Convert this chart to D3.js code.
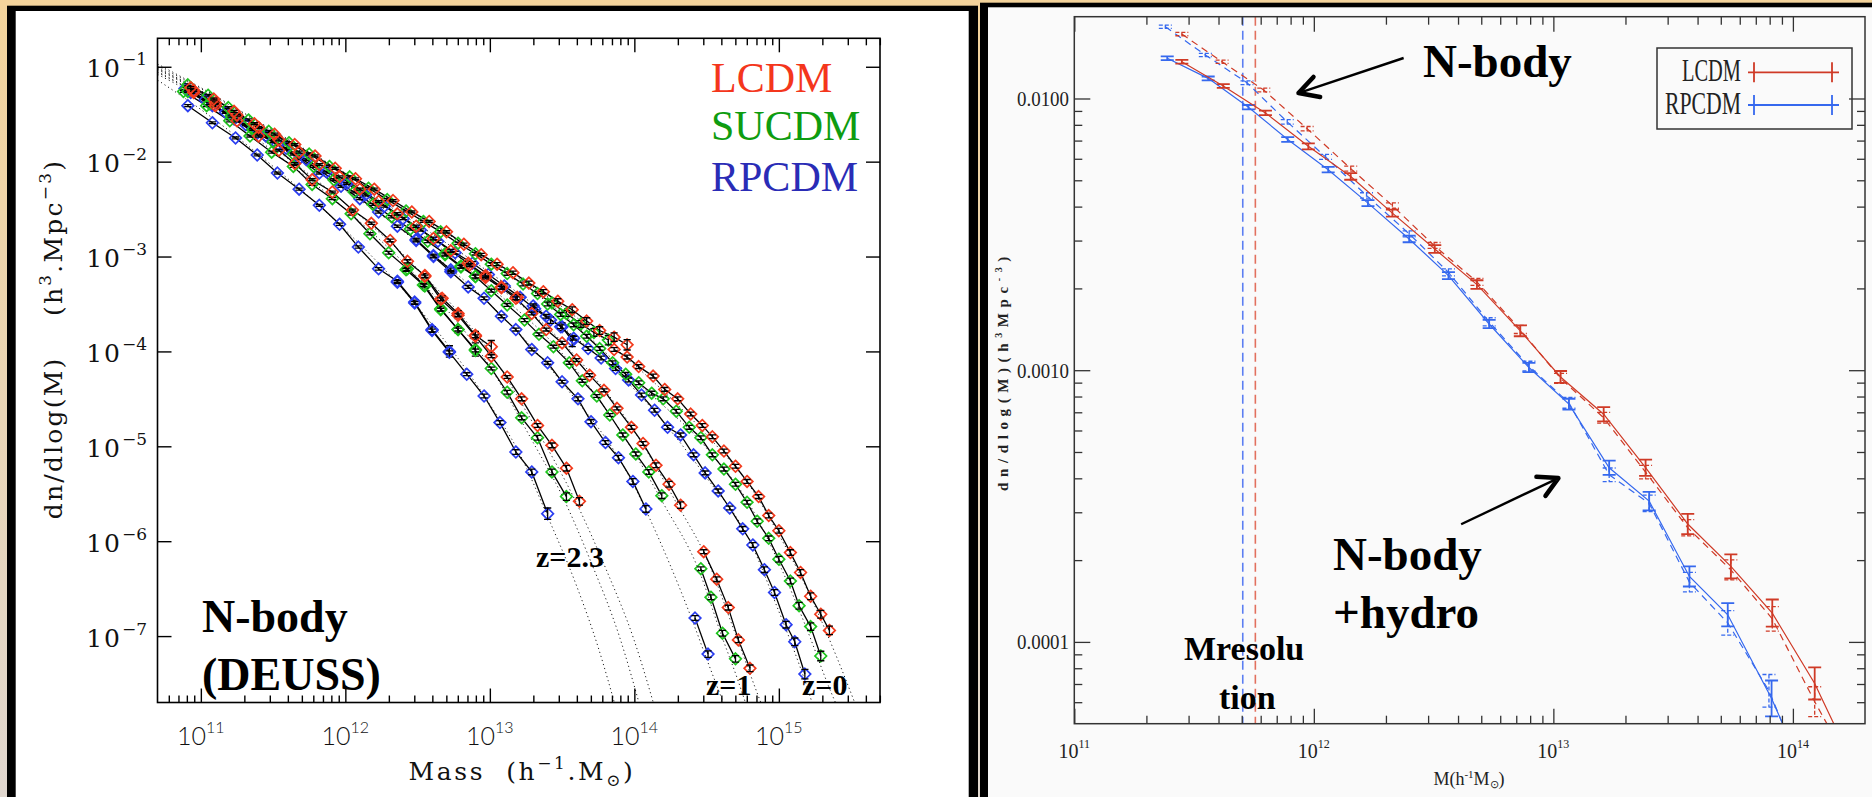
<!DOCTYPE html>
<html>
<head>
<meta charset="utf-8">
<script src="https://cdn.jsdelivr.net/npm/d3@7/dist/d3.min.js"></script>
<style>
html,body{margin:0;padding:0;background:#eadcc4;overflow:hidden}
svg{display:block}
text{white-space:pre}
</style>
</head>
<body>
<svg id="fig" width="1872" height="797"></svg>
<script>
// ================= DEUSS halo mass functions (left panel) =================
// point = [log10 M (h^-1 Msun), log10 dn/dlogM (h^3 Mpc^-3), error (dex)]
// a/b/c = successive simulation boxes (small -> large)
const lcdmZ0a = [[10.93,-1.22,.01],[11.09,-1.34,.01],[11.23,-1.47,.01],[11.37,-1.60,.01],[11.51,-1.71,.01],[11.65,-1.82,.01],[11.79,-1.94,.01],[11.93,-2.07,.01],[12.07,-2.18,.01],[12.20,-2.29,.01],[12.33,-2.41,.01],[12.46,-2.53,.01],[12.58,-2.63,.01],[12.70,-2.74,.012],[12.82,-2.87,.012],[12.94,-2.98,.014],[13.05,-3.08,.015],[13.16,-3.17,.017],[13.27,-3.28,.02],[13.37,-3.37,.022],[13.47,-3.47,.025],[13.57,-3.56,.03],[13.67,-3.68,.035],[13.76,-3.78,.04],[13.86,-3.85,.045],[13.95,-3.93,.055]];
const lcdmZ0b = [[13.86,-3.98,.02],[13.95,-4.06,.02],[14.03,-4.16,.02],[14.13,-4.26,.02],[14.21,-4.40,.02],[14.30,-4.50,.02],[14.39,-4.66,.02],[14.47,-4.78,.02],[14.54,-4.90,.02],[14.62,-5.05,.02],[14.70,-5.21,.02],[14.78,-5.37,.02],[14.86,-5.53,.02],[14.93,-5.73,.025],[15.00,-5.89,.025],[15.08,-6.12,.03],[15.15,-6.33,.03],[15.22,-6.58,.035],[15.29,-6.77,.04],[15.35,-6.94,.045]];
const sucdmZ0a = [[10.91,-1.19,.01],[11.05,-1.30,.01],[11.19,-1.43,.01],[11.33,-1.56,.01],[11.47,-1.68,.01],[11.61,-1.80,.01],[11.75,-1.92,.01],[11.89,-2.05,.01],[12.03,-2.16,.01],[12.16,-2.28,.01],[12.29,-2.40,.01],[12.42,-2.52,.01],[12.54,-2.63,.01],[12.66,-2.74,.012],[12.78,-2.86,.012],[12.90,-2.97,.014],[13.01,-3.08,.015],[13.12,-3.18,.017],[13.23,-3.29,.02],[13.33,-3.39,.022],[13.43,-3.49,.025],[13.53,-3.60,.03],[13.63,-3.71,.035],[13.72,-3.80,.04],[13.82,-3.88,.05]];
const sucdmZ0b = [[13.40,-3.50,.02],[13.49,-3.61,.02],[13.58,-3.72,.02],[13.67,-3.84,.02],[13.76,-3.97,.02],[13.85,-4.12,.02],[13.94,-4.24,.02],[14.03,-4.33,.02],[14.12,-4.44,.02],[14.20,-4.50,.02],[14.29,-4.63,.02],[14.38,-4.80,.02],[14.46,-4.91,.02],[14.54,-5.09,.02],[14.62,-5.24,.02],[14.70,-5.40,.02],[14.78,-5.59,.02],[14.85,-5.79,.025],[14.93,-5.97,.025],[15.00,-6.19,.03],[15.08,-6.42,.03],[15.14,-6.68,.035],[15.22,-6.90,.04],[15.29,-7.21,.05]];
const rpcdmZ0a = [[10.89,-1.23,.01],[11.03,-1.35,.01],[11.17,-1.48,.01],[11.31,-1.61,.01],[11.45,-1.73,.01],[11.59,-1.86,.01],[11.73,-1.98,.01],[11.87,-2.11,.01],[12.01,-2.23,.01],[12.14,-2.35,.01],[12.27,-2.47,.01],[12.40,-2.60,.012],[12.52,-2.72,.012],[12.64,-2.84,.014],[12.76,-2.96,.015],[12.88,-3.07,.017],[12.99,-3.19,.02],[13.10,-3.31,.022],[13.21,-3.43,.025],[13.31,-3.55,.03],[13.42,-3.67,.035],[13.50,-3.74,.04],[13.57,-3.89,.06]];
const rpcdmZ0b = [[13.30,-3.52,.02],[13.39,-3.63,.02],[13.49,-3.74,.02],[13.58,-3.86,.02],[13.68,-3.97,.02],[13.77,-4.07,.02],[13.87,-4.18,.02],[13.96,-4.30,.02],[14.05,-4.46,.02],[14.14,-4.62,.02],[14.23,-4.80,.02],[14.32,-4.88,.02],[14.41,-5.09,.02],[14.49,-5.28,.02],[14.58,-5.47,.02],[14.66,-5.65,.02],[14.75,-5.87,.025],[14.82,-6.04,.025],[14.90,-6.30,.03],[14.97,-6.54,.03],[15.05,-6.88,.035],[15.11,-7.06,.04],[15.18,-7.40,.05]];

const lcdmZ1a = [[10.95,-1.25,.01],[11.10,-1.38,.01],[11.25,-1.51,.01],[11.40,-1.64,.01],[11.54,-1.77,.01],[11.68,-1.90,.01],[11.82,-2.03,.01],[11.96,-2.16,.01],[12.10,-2.29,.01],[12.23,-2.42,.01],[12.36,-2.55,.012],[12.49,-2.68,.012],[12.61,-2.81,.014],[12.73,-2.94,.015],[12.85,-3.07,.018],[12.97,-3.20,.02],[13.08,-3.32,.025],[13.19,-3.43,.03]];
const lcdmZ1b = [[12.86,-3.09,.015],[12.97,-3.22,.015],[13.08,-3.33,.015],[13.18,-3.44,.015],[13.29,-3.60,.015],[13.39,-3.77,.015],[13.50,-3.91,.015],[13.60,-4.09,.015],[13.69,-4.25,.015],[13.79,-4.41,.015],[13.88,-4.60,.015],[13.98,-4.80,.02],[14.06,-4.97,.02],[14.15,-5.20,.025],[14.24,-5.40,.03],[14.32,-5.62,.035]];
const lcdmZ1c = [[14.48,-6.11,.02],[14.57,-6.40,.025],[14.65,-6.70,.025],[14.72,-7.04,.03],[14.80,-7.34,.035]];
const sucdmZ1a = [[10.91,-1.26,.01],[11.06,-1.39,.01],[11.21,-1.52,.01],[11.36,-1.66,.01],[11.50,-1.79,.01],[11.64,-1.92,.01],[11.78,-2.05,.01],[11.92,-2.19,.01],[12.06,-2.32,.01],[12.19,-2.45,.01],[12.32,-2.58,.012],[12.45,-2.71,.012],[12.57,-2.84,.014],[12.69,-2.97,.016],[12.80,-3.10,.02],[12.90,-3.21,.025]];
const sucdmZ1b = [[12.69,-2.98,.015],[12.80,-3.11,.015],[12.90,-3.21,.015],[13.01,-3.36,.015],[13.12,-3.51,.015],[13.24,-3.67,.015],[13.34,-3.82,.015],[13.44,-3.95,.015],[13.55,-4.12,.015],[13.64,-4.31,.015],[13.74,-4.47,.015],[13.83,-4.67,.015],[13.92,-4.88,.02],[14.01,-5.08,.02],[14.10,-5.27,.025],[14.19,-5.52,.03]];
const sucdmZ1c = [[14.46,-6.29,.02],[14.53,-6.59,.025],[14.61,-6.97,.03],[14.70,-7.24,.035]];
const rpcdmZ1a = [[10.93,-1.27,.01],[11.08,-1.41,.01],[11.23,-1.55,.01],[11.39,-1.70,.01],[11.53,-1.82,.01],[11.68,-1.97,.01],[11.82,-2.12,.01],[11.97,-2.26,.01],[12.10,-2.39,.01],[12.23,-2.53,.012],[12.36,-2.68,.012],[12.49,-2.82,.014],[12.61,-2.99,.016],[12.73,-3.14,.02]];
const rpcdmZ1b = [[12.49,-2.83,.015],[12.61,-3.00,.015],[12.73,-3.16,.015],[12.85,-3.32,.015],[12.96,-3.44,.015],[13.08,-3.63,.015],[13.18,-3.77,.015],[13.29,-3.98,.015],[13.40,-4.12,.015],[13.50,-4.32,.015],[13.61,-4.50,.02],[13.70,-4.74,.02],[13.80,-4.96,.02],[13.89,-5.12,.025],[13.99,-5.37,.03],[14.08,-5.66,.035]];
const rpcdmZ1c = [[14.42,-6.81,.025],[14.51,-7.19,.035]];

const lcdmZ23a = [[10.95,-1.27,.01],[11.10,-1.41,.01],[11.25,-1.57,.01],[11.40,-1.73,.01],[11.54,-1.88,.01],[11.65,-2.02,.01],[11.77,-2.19,.01],[11.91,-2.32,.01],[12.05,-2.51,.01],[12.18,-2.65,.012],[12.31,-2.83,.014],[12.43,-3.05,.016],[12.55,-3.20,.02],[12.67,-3.44,.025],[12.78,-3.60,.03],[12.90,-3.83,.04],[13.01,-3.95,.065]];
const lcdmZ23b = [[12.55,-3.21,.015],[12.66,-3.45,.015],[12.78,-3.62,.015],[12.90,-3.84,.015],[13.01,-4.05,.015],[13.12,-4.27,.015],[13.22,-4.50,.02],[13.33,-4.78,.02],[13.43,-4.99,.025],[13.53,-5.23,.03],[13.62,-5.58,.04]];
const sucdmZ23a = [[10.88,-1.26,.01],[11.04,-1.41,.01],[11.20,-1.57,.01],[11.34,-1.73,.01],[11.49,-1.90,.01],[11.64,-2.05,.01],[11.77,-2.24,.01],[11.91,-2.39,.01],[12.04,-2.55,.012],[12.17,-2.76,.012],[12.30,-2.96,.014],[12.43,-3.13,.016],[12.55,-3.31,.02],[12.66,-3.55,.025],[12.78,-3.77,.035],[12.90,-3.98,.07]];
const sucdmZ23b = [[12.42,-3.14,.015],[12.54,-3.30,.015],[12.66,-3.56,.015],[12.78,-3.77,.015],[12.90,-3.99,.015],[13.01,-4.18,.015],[13.12,-4.43,.02],[13.22,-4.70,.02],[13.33,-4.91,.025],[13.43,-5.27,.03],[13.53,-5.53,.04]];
const rpcdmZ23a = [[10.91,-1.41,.01],[11.08,-1.59,.01],[11.24,-1.75,.01],[11.39,-1.93,.01],[11.53,-2.12,.01],[11.68,-2.29,.01],[11.82,-2.46,.01],[11.96,-2.66,.012],[12.09,-2.90,.012],[12.23,-3.13,.014],[12.36,-3.26,.016],[12.48,-3.48,.02],[12.60,-3.77,.03],[12.72,-4.00,.06]];
const rpcdmZ23b = [[12.36,-3.27,.015],[12.48,-3.49,.015],[12.60,-3.78,.015],[12.72,-4.01,.015],[12.84,-4.24,.015],[12.96,-4.47,.02],[13.07,-4.75,.02],[13.18,-5.06,.025],[13.29,-5.27,.03],[13.40,-5.71,.06]];

// analytic fits (dotted): [log10 M, log10 dn/dlogM]
const fitLcdmZ0  = [[10.70,-0.97],[11.00,-1.22],[11.50,-1.67],[12.00,-2.12],[12.50,-2.57],[13.00,-3.04],[13.50,-3.53],[14.00,-4.14],[14.50,-4.88],[14.80,-5.42],[15.00,-5.93],[15.20,-6.52],[15.40,-7.22],[15.55,-7.80]];
const fitSucdmZ0 = [[10.70,-0.99],[11.00,-1.23],[11.50,-1.68],[12.00,-2.13],[12.50,-2.59],[13.00,-3.07],[13.50,-3.60],[14.00,-4.30],[14.50,-5.02],[14.80,-5.62],[15.00,-6.23],[15.20,-6.95],[15.35,-7.55],[15.42,-7.80]];
const fitRpcdmZ0 = [[10.70,-1.01],[11.00,-1.25],[11.50,-1.71],[12.00,-2.18],[12.50,-2.66],[13.00,-3.17],[13.50,-3.74],[14.00,-4.40],[14.50,-5.33],[14.80,-6.00],[15.00,-6.74],[15.10,-7.13],[15.20,-7.56],[15.25,-7.80]];
const fitLcdmZ1  = [[10.70,-1.02],[11.00,-1.26],[11.50,-1.73],[12.00,-2.20],[12.50,-2.70],[13.00,-3.25],[13.50,-3.90],[14.00,-4.84],[14.30,-5.62],[14.50,-6.18],[14.70,-6.98],[14.85,-7.60],[14.90,-7.80]];
const fitSucdmZ1 = [[10.70,-1.03],[11.00,-1.27],[11.50,-1.75],[12.00,-2.23],[12.50,-2.74],[13.00,-3.32],[13.50,-4.02],[14.00,-5.07],[14.20,-5.60],[14.45,-6.32],[14.60,-6.98],[14.72,-7.48],[14.79,-7.80]];
const fitRpcdmZ1 = [[10.70,-1.05],[11.00,-1.30],[11.50,-1.80],[12.00,-2.30],[12.50,-2.85],[13.00,-3.50],[13.50,-4.33],[14.00,-5.42],[14.10,-5.74],[14.40,-6.83],[14.50,-7.24],[14.60,-7.64],[14.64,-7.80]];
const fitLcdmZ23  = [[10.70,-1.06],[11.00,-1.31],[11.50,-1.85],[12.00,-2.44],[12.50,-3.13],[13.00,-4.01],[13.30,-4.76],[13.60,-5.60],[13.80,-6.28],[14.00,-7.05],[14.15,-7.80]];
const fitSucdmZ23 = [[10.70,-1.08],[11.00,-1.33],[11.50,-1.89],[12.00,-2.50],[12.50,-3.22],[13.00,-4.16],[13.30,-4.96],[13.50,-5.52],[13.70,-6.22],[13.90,-7.02],[14.05,-7.80]];
const fitRpcdmZ23 = [[10.70,-1.14],[11.00,-1.45],[11.50,-2.05],[12.00,-2.72],[12.50,-3.53],[13.00,-4.56],[13.20,-5.06],[13.40,-5.74],[13.60,-6.47],[13.75,-7.12],[13.88,-7.80]];

const leftXExponents = [11, 12, 13, 14, 15];
const leftYExponents = [-1, -2, -3, -4, -5, -6, -7];
const modelNamesL = ['LCDM', 'SUCDM', 'RPCDM'];

// ================= N-body vs N-body+hydro (right panel) =================
// point = [log10 M, log10 dn/dlogM, error (dex)]
const lcdmHydro = [[11.449,-1.865,.007],[11.622,-1.954,.007],[11.798,-2.053,.008],[11.977,-2.176,.011],[12.154,-2.287,.012],[12.328,-2.422,.013],[12.505,-2.554,.014],[12.681,-2.685,.016],[12.862,-2.855,.02],[13.030,-3.025,.022],[13.210,-3.162,.026],[13.385,-3.359,.03],[13.561,-3.566,.037],[13.741,-3.722,.044],[13.914,-3.894,.05],[14.091,-4.153,.059],[14.267,-4.480,.07]];
const rpcdmHydro = [[11.388,-1.852,.007],[11.559,-1.926,.007],[11.727,-2.032,.008],[11.891,-2.151,.009],[12.060,-2.262,.01],[12.226,-2.385,.011],[12.398,-2.517,.012],[12.562,-2.652,.013],[12.732,-2.830,.015],[12.898,-2.990,.017],[13.065,-3.125,.02],[13.233,-3.359,.026],[13.400,-3.482,.034],[13.568,-3.759,.037],[13.728,-3.900,.043],[13.911,-4.208,.066],[14.079,-4.548,.08]];
const lcdmNbody = [[11.449,-1.763,.006],[11.617,-1.865,.006],[11.791,-1.969,.007],[11.972,-2.111,.008],[12.154,-2.258,.009],[12.328,-2.394,.01],[12.502,-2.541,.011],[12.681,-2.675,.013],[12.862,-2.850,.015],[13.030,-3.030,.018],[13.210,-3.175,.02],[13.385,-3.375,.025],[13.561,-3.580,.03],[13.741,-3.735,.037],[13.914,-3.915,.045],[14.091,-4.220,.055],[14.267,-4.500,.07]];
const rpcdmNbody = [[11.380,-1.736,.006],[11.547,-1.840,.006],[11.721,-1.942,.007],[11.889,-2.086,.008],[12.049,-2.215,.009],[12.220,-2.357,.01],[12.398,-2.498,.011],[12.562,-2.640,.013],[12.732,-2.822,.015],[12.898,-2.985,.018],[13.065,-3.120,.02],[13.233,-3.385,.025],[13.400,-3.490,.03],[13.568,-3.780,.036],[13.728,-3.930,.045],[13.900,-4.180,.06],[14.079,-4.560,.08]];
const mResolution = {RPCDM: 5.05e11, LCDM: 5.7e11};
const rightXExponents = [11, 12, 13, 14];
const rightYTicks = [0.01, 0.001, 0.0001];
const rightYTickText = ['0.0100', '0.0010', '0.0001'];
const modelNamesR = ['LCDM', 'RPCDM'];

// ------------------------------------------------------------------
const RED_L = '#f23a1c', GREEN_L = '#1ec41e', BLUE_L = '#2b3ef0';
const RED_T = '#f4361c', GREEN_T = '#0e9c10', BLUE_T = '#2a2cb6';
const RED_R = '#cf3a26', BLUE_R = '#3568ee';

const svg = d3.select('#fig');
const defs = svg.append('defs');
const bg = defs.append('linearGradient').attr('id', 'bg').attr('x1', 0).attr('y1', 0).attr('x2', 0).attr('y2', 1);
bg.append('stop').attr('offset', '0%').attr('stop-color', '#f3d39b');
bg.append('stop').attr('offset', '100%').attr('stop-color', '#e0d7cf');
svg.append('rect').attr('width', 1872).attr('height', 797).attr('fill', 'url(#bg)');

// ---- panel cards ----
svg.append('rect').attr('x', 7).attr('y', 5.7).attr('width', 971).attr('height', 800).attr('fill', '#000');
svg.append('rect').attr('x', 15.7).attr('y', 11).attr('width', 953).attr('height', 800).attr('fill', '#fff');
svg.append('rect').attr('x', 980).attr('y', 2.7).attr('width', 900).attr('height', 800).attr('fill', '#000');
svg.append('rect').attr('x', 988).attr('y', 7.3).attr('width', 890).attr('height', 800).attr('fill', '#fafafa');

const p10 = v => Math.pow(10, v);

// =================== LEFT PANEL ===================
const L = {x0: 157.5, x1: 880, y0: 38.3, y1: 702.5};
const xL = d3.scaleLog().domain([p10(10.7), p10(15.7)]).range([L.x0, L.x1]);
const yL = d3.scaleLog().domain([p10(-7.7), p10(-0.7)]).range([L.y1, L.y0]);

defs.append('clipPath').attr('id', 'clipL').append('rect')
  .attr('x', L.x0).attr('y', L.y0).attr('width', L.x1 - L.x0).attr('height', L.y1 - L.y0);

const gL = svg.append('g');
const plotL = gL.append('g').attr('clip-path', 'url(#clipL)');

const lineL = d3.line().x(d => xL(p10(d[0]))).y(d => yL(p10(d[1])));

const fitsL = [fitLcdmZ0, fitSucdmZ0, fitRpcdmZ0, fitLcdmZ1, fitSucdmZ1, fitRpcdmZ1, fitLcdmZ23, fitSucdmZ23, fitRpcdmZ23];
plotL.selectAll('path.fit').data(fitsL).join('path').attr('class', 'fit')
  .attr('d', d => lineL.curve(d3.curveMonotoneX)(d))
  .attr('fill', 'none').attr('stroke', '#222').attr('stroke-width', 1).attr('stroke-dasharray', '1.2,3');
lineL.curve(d3.curveLinear);

const seriesL = [
  {c: BLUE_L, segs: [rpcdmZ23a, rpcdmZ23b, rpcdmZ1a, rpcdmZ1b, rpcdmZ1c, rpcdmZ0a, rpcdmZ0b]},
  {c: GREEN_L, segs: [sucdmZ23a, sucdmZ23b, sucdmZ1a, sucdmZ1b, sucdmZ1c, sucdmZ0a, sucdmZ0b]},
  {c: RED_L, segs: [lcdmZ23a, lcdmZ23b, lcdmZ1a, lcdmZ1b, lcdmZ1c, lcdmZ0a, lcdmZ0b]}
];
const segsL = [];
seriesL.forEach(s => s.segs.forEach(seg => segsL.push({c: s.c, pts: seg})));

plotL.selectAll('path.seg').data(segsL).join('path').attr('class', 'seg')
  .attr('d', d => lineL(d.pts)).attr('fill', 'none').attr('stroke', '#000').attr('stroke-width', 1.3);

const diamond = 'M0,-5.8L5.8,0L0,5.8L-5.8,0Z';
segsL.forEach(s => {
  const g = plotL.append('g');
  const pts = g.selectAll('g').data(s.pts).join('g')
    .attr('transform', d => `translate(${xL(p10(d[0]))},${yL(p10(d[1]))})`);
  pts.append('path').attr('d', diamond).attr('fill', 'none').attr('stroke', s.c).attr('stroke-width', 1.7);
  pts.append('path')
    .attr('d', d => {
      const yc = yL(p10(d[1]));
      const a = yL(p10(d[1] + d[2])) - yc, b = yL(p10(d[1] - d[2])) - yc;
      return `M0,${a}V${b}M-3.6,${a}H3.6M-3.6,${b}H3.6`;
    })
    .attr('fill', 'none').attr('stroke', '#000').attr('stroke-width', 1.3);
});

// axes (ticks only; labels drawn as text)
const minorTicks = (lo, hi) => {
  const out = [];
  for (let e = Math.floor(lo); e <= Math.ceil(hi); e++)
    for (let k = 2; k <= 9; k++) { const v = k * p10(e); if (Math.log10(v) > lo && Math.log10(v) < hi) out.push(v); }
  return out;
};
function tickAxis(g, axis) {
  g.call(axis);
  g.select('.domain').remove();
  g.selectAll('text').remove();
  g.selectAll('line').attr('stroke', '#000').attr('stroke-width', 1.4);
  return g;
}
const xMajL = leftXExponents.map(p10), xMinL = minorTicks(10.7, 15.7);
const yMajL = leftYExponents.map(p10);
tickAxis(gL.append('g').attr('transform', `translate(0,${L.y1})`), d3.axisBottom(xL).tickValues(xMajL).tickSize(-14).tickFormat(''));
tickAxis(gL.append('g').attr('transform', `translate(0,${L.y1})`), d3.axisBottom(xL).tickValues(xMinL).tickSize(-7).tickFormat(''));
tickAxis(gL.append('g').attr('transform', `translate(0,${L.y0})`), d3.axisTop(xL).tickValues(xMajL).tickSize(-14).tickFormat(''));
tickAxis(gL.append('g').attr('transform', `translate(0,${L.y0})`), d3.axisTop(xL).tickValues(xMinL).tickSize(-7).tickFormat(''));
tickAxis(gL.append('g').attr('transform', `translate(${L.x0},0)`), d3.axisLeft(yL).tickValues(yMajL).tickSize(-14).tickFormat(''));
tickAxis(gL.append('g').attr('transform', `translate(${L.x1},0)`), d3.axisRight(yL).tickValues(yMajL).tickSize(-14).tickFormat(''));
gL.append('rect').attr('x', L.x0).attr('y', L.y0).attr('width', L.x1 - L.x0).attr('height', L.y1 - L.y0)
  .attr('fill', 'none').attr('stroke', '#000').attr('stroke-width', 1.6);

// tick labels
leftXExponents.forEach(e => {
  const t = gL.append('text').attr('x', xL(p10(e))).attr('y', 745).attr('text-anchor', 'middle')
    .attr('font-family', 'Lato, "Open Sans", sans-serif').attr('font-weight', 300).attr('font-size', 25).attr('fill', '#111');
  t.append('tspan').text('10');
  t.append('tspan').attr('dy', -12).attr('font-size', 16).text(String(e));
});
leftYExponents.forEach(e => {
  const t = gL.append('text').attr('x', 147).attr('y', yL(p10(e)) + 10.5).attr('text-anchor', 'end')
    .attr('font-family', '"DejaVu Serif", serif').attr('font-size', 25).attr('fill', '#111');
  t.append('tspan').attr('letter-spacing', 2).text('10');
  t.append('tspan').attr('dy', -12).attr('font-size', 17).text('\u2212' + Math.abs(e));
});

// axis titles
{
  const t = gL.append('text').attr('x', 522).attr('y', 780).attr('text-anchor', 'middle')
    .attr('font-family', '"DejaVu Serif", serif').attr('font-size', 25).attr('letter-spacing', 2.6).attr('fill', '#111');
  t.append('tspan').text('Mass  (h');
  t.append('tspan').attr('dy', -11).attr('font-size', 17).text('\u22121');
  t.append('tspan').attr('dy', 11).text('.M');
  t.append('tspan').attr('dy', 6).attr('font-size', 17).text('\u2299');
  t.append('tspan').attr('dy', -6).text(')');
}
{
  const t = gL.append('text').attr('transform', 'translate(62,339) rotate(-90)').attr('text-anchor', 'middle')
    .attr('font-family', '"DejaVu Serif", serif').attr('font-size', 25).attr('letter-spacing', 2.2).attr('fill', '#111');
  t.append('tspan').text('dn/dlog(M)    (h');
  t.append('tspan').attr('dy', -11).attr('font-size', 17).text('3');
  t.append('tspan').attr('dy', 11).text('.Mpc');
  t.append('tspan').attr('dy', -11).attr('font-size', 17).text('\u22123');
  t.append('tspan').attr('dy', 11).text(')');
}

// legend and annotations
[[modelNamesL[0], RED_T, 92], [modelNamesL[1], GREEN_T, 140], [modelNamesL[2], BLUE_T, 191]].forEach(([s, c, y]) => {
  gL.append('text').attr('x', 711).attr('y', y).attr('font-family', '"Liberation Serif", serif')
    .attr('font-size', 42).attr('fill', c).text(s);
});
const boldSerif = '"Liberation Serif", "Times New Roman", serif';
gL.append('text').attr('x', 202).attr('y', 632).attr('font-family', boldSerif).attr('font-weight', 'bold').attr('font-size', 46).attr('fill', '#000').text('N-body');
gL.append('text').attr('x', 202).attr('y', 690).attr('font-family', boldSerif).attr('font-weight', 'bold').attr('font-size', 46).attr('fill', '#000').text('(DEUSS)');
[['z=2.3', 536, 567], ['z=1', 706, 695], ['z=0', 802, 695]].forEach(([s, x, y]) => {
  gL.append('text').attr('x', x).attr('y', y).attr('font-family', boldSerif).attr('font-weight', 'bold')
    .attr('font-size', 30).attr('fill', '#000').text(s);
});

// =================== RIGHT PANEL ===================
const R = {x0: 1074.3, x1: 1865, y0: 16.7, y1: 723.7};
const xR = d3.scaleLog().domain([1e11, 2e14]).range([R.x0, R.x1]);
const yR = d3.scaleLog().domain([5e-5, 0.02]).range([R.y1, R.y0]);
defs.append('clipPath').attr('id', 'clipR').append('rect')
  .attr('x', R.x0).attr('y', R.y0).attr('width', R.x1 - R.x0).attr('height', R.y1 - R.y0);
const gR = svg.append('g');
const plotR = gR.append('g').attr('clip-path', 'url(#clipR)');
const lineR = d3.line().x(d => xR(p10(d[0]))).y(d => yR(p10(d[1])));

// mass-resolution limits
[[mResolution.RPCDM, '#5b7ef2'], [mResolution.LCDM, '#e2705e']].forEach(([m, c]) => {
  plotR.append('line').attr('x1', xR(m)).attr('x2', xR(m)).attr('y1', R.y0).attr('y2', R.y1)
    .attr('stroke', c).attr('stroke-width', 1.6).attr('stroke-dasharray', '9,5');
});

const seriesR = [
  {pts: rpcdmNbody, c: BLUE_R, dash: '7,5'},
  {pts: lcdmNbody, c: RED_R, dash: '7,5'},
  {pts: rpcdmHydro, c: BLUE_R, dash: null},
  {pts: lcdmHydro, c: RED_R, dash: null}
];
seriesR.forEach(s => {
  plotR.append('path').attr('d', lineR(s.pts)).attr('fill', 'none').attr('stroke', s.c)
    .attr('stroke-width', 1.2).attr('stroke-dasharray', s.dash);
  plotR.append('g').selectAll('path').data(s.pts).join('path')
    .attr('d', d => {
      const x = xR(p10(d[0]));
      const a = yR(p10(d[1] + d[2])), b = yR(p10(d[1] - d[2]));
      const w = 6.5;
      return `M${x},${a}V${b}M${x - w},${a}H${x + w}M${x - w},${b}H${x + w}`;
    })
    .attr('fill', 'none').attr('stroke', s.c).attr('stroke-width', s.dash ? 1.3 : 1.8)
    .attr('stroke-dasharray', s.dash ? '4,2' : null);
});

const xMajR = rightXExponents.map(p10), xMinR = minorTicks(11, Math.log10(2e14));
const yMinR = minorTicks(Math.log10(5e-5), Math.log10(0.02));
function tickAxisR(g, axis) {
  tickAxis(g, axis);
  g.selectAll('line').attr('stroke', '#333').attr('stroke-width', 1.3);
}
tickAxisR(gR.append('g').attr('transform', `translate(0,${R.y1})`), d3.axisBottom(xR).tickValues(xMajR).tickSize(-15).tickFormat(''));
tickAxisR(gR.append('g').attr('transform', `translate(0,${R.y1})`), d3.axisBottom(xR).tickValues(xMinR).tickSize(-8).tickFormat(''));
tickAxisR(gR.append('g').attr('transform', `translate(0,${R.y0})`), d3.axisTop(xR).tickValues(xMajR).tickSize(-15).tickFormat(''));
tickAxisR(gR.append('g').attr('transform', `translate(0,${R.y0})`), d3.axisTop(xR).tickValues(xMinR).tickSize(-8).tickFormat(''));
tickAxisR(gR.append('g').attr('transform', `translate(${R.x0},0)`), d3.axisLeft(yR).tickValues(rightYTicks).tickSize(-16).tickFormat(''));
tickAxisR(gR.append('g').attr('transform', `translate(${R.x0},0)`), d3.axisLeft(yR).tickValues(yMinR).tickSize(-8).tickFormat(''));
tickAxisR(gR.append('g').attr('transform', `translate(${R.x1},0)`), d3.axisRight(yR).tickValues(rightYTicks).tickSize(-16).tickFormat(''));
tickAxisR(gR.append('g').attr('transform', `translate(${R.x1},0)`), d3.axisRight(yR).tickValues(yMinR).tickSize(-8).tickFormat(''));
gR.append('rect').attr('x', R.x0).attr('y', R.y0).attr('width', R.x1 - R.x0).attr('height', R.y1 - R.y0)
  .attr('fill', 'none').attr('stroke', '#333').attr('stroke-width', 1.5);

const hershey = '"Liberation Serif", "Times New Roman", serif';
rightYTicks.forEach((v, i) => {
  gR.append('text').attr('x', 1069).attr('y', yR(v) + 7.5).attr('text-anchor', 'end')
    .attr('font-family', hershey).attr('font-size', 22).attr('fill', '#222')
    .attr('textLength', 52).attr('lengthAdjust', 'spacingAndGlyphs').text(rightYTickText[i]);
});
rightXExponents.forEach(e => {
  const t = gR.append('text').attr('x', xR(p10(e))).attr('y', 758).attr('text-anchor', 'middle')
    .attr('font-family', hershey).attr('font-size', 20).attr('fill', '#222');
  t.append('tspan').text('10');
  t.append('tspan').attr('dy', -10).attr('font-size', 12).text(String(e));
});
{
  const t = gR.append('text').attr('x', 1469).attr('y', 785).attr('text-anchor', 'middle')
    .attr('font-family', hershey).attr('font-size', 18).attr('fill', '#222');
  t.append('tspan').text('M(h');
  t.append('tspan').attr('dy', -7).attr('font-size', 11).text('-1');
  t.append('tspan').attr('dy', 7).text('M');
  t.append('tspan').attr('dy', 3).attr('font-size', 11).text('\u2299');
  t.append('tspan').attr('dy', -3).text(')');
}
{
  const t = gR.append('text').attr('transform', 'translate(1008,371) rotate(-90)').attr('text-anchor', 'middle')
    .attr('font-family', hershey).attr('font-weight', 'bold').attr('font-size', 15).attr('fill', '#222')
    .attr('letter-spacing', 5.6);
  t.append('tspan').text('dn/dlog(M)(h');
  t.append('tspan').attr('dy', -6).attr('font-size', 10).text('3');
  t.append('tspan').attr('dy', 6).text('Mpc');
  t.append('tspan').attr('dy', -6).attr('font-size', 10).text('-3');
  t.append('tspan').attr('dy', 6).text(')');
}

// legend
gR.append('rect').attr('x', 1657).attr('y', 48).attr('width', 195).attr('height', 81)
  .attr('fill', 'none').attr('stroke', '#333').attr('stroke-width', 1.5);
[[modelNamesR[0], RED_R, 72.3, 59], [modelNamesR[1], BLUE_R, 105, 76]].forEach(([s, c, y, len]) => {
  gR.append('text').attr('x', 1741).attr('y', y + 9).attr('text-anchor', 'end')
    .attr('font-family', hershey).attr('font-size', 31).attr('fill', '#222')
    .attr('textLength', len).attr('lengthAdjust', 'spacingAndGlyphs').text(s);
  gR.append('path').attr('d', `M1748,${y}H1839M1754,${y - 10}V${y + 10}M1832,${y - 10}V${y + 10}`)
    .attr('fill', 'none').attr('stroke', c).attr('stroke-width', 1.8);
});

// annotations
function arrow(g, x1, y1, x2, y2) {
  const ang = Math.atan2(y1 - y2, x1 - x2), len = 22, spread = 0.5;
  g.append('line').attr('x1', x1).attr('y1', y1).attr('x2', x2).attr('y2', y2)
    .attr('stroke', '#000').attr('stroke-width', 2.4);
  const h = [ang + spread, ang - spread].map(a => [x2 + len * Math.cos(a), y2 + len * Math.sin(a)]);
  g.append('path').attr('d', `M${h[0][0]},${h[0][1]}L${x2},${y2}L${h[1][0]},${h[1][1]}`)
    .attr('fill', 'none').attr('stroke', '#000').attr('stroke-width', 4.5).attr('stroke-linecap', 'round').attr('stroke-linejoin', 'round');
}
arrow(gR, xR(p10(12.375)), yR(p10(-1.851)), xR(p10(11.936)), yR(p10(-1.980)));
arrow(gR, xR(p10(12.615)), yR(p10(-3.567)), xR(p10(13.021)), yR(p10(-3.397)));
gR.append('text').attr('x', 1423).attr('y', 77).attr('font-family', boldSerif).attr('font-weight', 'bold').attr('font-size', 47).attr('fill', '#000').text('N-body');
gR.append('text').attr('x', 1333).attr('y', 570).attr('font-family', boldSerif).attr('font-weight', 'bold').attr('font-size', 47).attr('fill', '#000').text('N-body');
gR.append('text').attr('x', 1333).attr('y', 628).attr('font-family', boldSerif).attr('font-weight', 'bold').attr('font-size', 47).attr('fill', '#000').text('+hydro');
gR.append('text').attr('x', 1184).attr('y', 660).attr('font-family', boldSerif).attr('font-weight', 'bold').attr('font-size', 34).attr('fill', '#000').text('Mresolu');
gR.append('text').attr('x', 1219).attr('y', 709).attr('font-family', boldSerif).attr('font-weight', 'bold').attr('font-size', 34).attr('fill', '#000').text('tion');
</script>
</body>
</html>
